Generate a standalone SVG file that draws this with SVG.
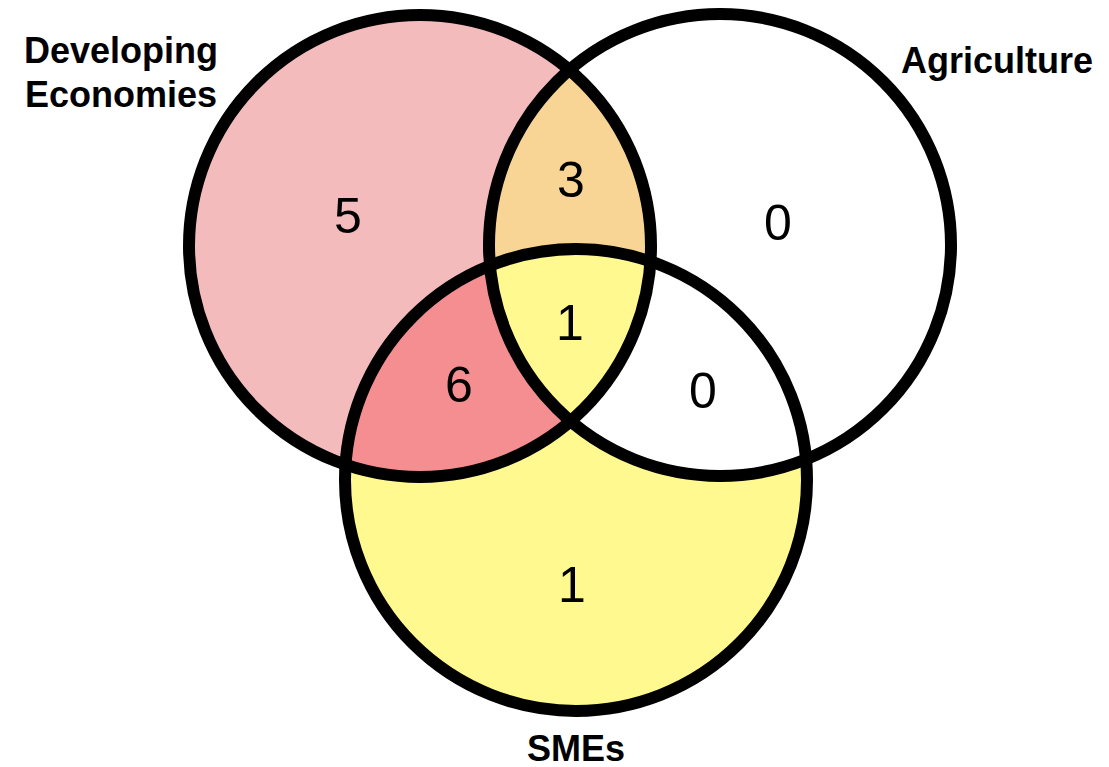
<svg xmlns="http://www.w3.org/2000/svg" width="1109" height="767" viewBox="0 0 1109 767">
  <style>
    .ring { fill: none; stroke: #000; stroke-width: 12; }
    .num { font-family: "Liberation Sans", Arial, sans-serif; font-size: 50px; fill: #000; text-anchor: middle; }
    .lab { font-family: "Liberation Sans", Arial, sans-serif; font-size: 36px; font-weight: bold; fill: #000; text-anchor: middle; }
  </style>
  <defs>
    <clipPath id="clipA"><circle cx="420" cy="246" r="231"/></clipPath>
    <clipPath id="clipB"><circle cx="720" cy="245" r="231"/></clipPath>
    <clipPath id="clipC"><circle cx="576" cy="480" r="231"/></clipPath>
  </defs>
  <rect width="1109" height="767" fill="#fff"/>
  <g id="fills">
    <circle cx="420" cy="246" r="231" fill="#F4BBBD"/>
    <circle cx="720" cy="245" r="231" fill="#fff"/>
    <circle cx="576" cy="480" r="231" fill="#FFF98F"/>
    <g clip-path="url(#clipB)"><circle cx="420" cy="246" r="231" fill="#F9D595"/></g>
    <g clip-path="url(#clipC)"><circle cx="720" cy="245" r="231" fill="#fff"/></g>
    <g clip-path="url(#clipC)"><circle cx="420" cy="246" r="231" fill="#F48E91"/></g>
    <g clip-path="url(#clipC)"><g clip-path="url(#clipB)"><circle cx="420" cy="246" r="231" fill="#FFF98F"/></g></g>
  </g>
  <g id="developing-economies">
    <circle class="ring" cx="420" cy="246" r="231"/>
    <text class="lab" x="121" y="63">Developing</text>
    <text class="lab" x="121" y="107">Economies</text>
  </g>
  <g id="agriculture">
    <circle class="ring" cx="720" cy="245" r="231"/>
    <text class="lab" x="997" y="73">Agriculture</text>
  </g>
  <g id="smes">
    <circle class="ring" cx="576" cy="480" r="231"/>
    <text class="lab" x="576" y="761">SMEs</text>
  </g>
  <g id="counts">
    <text class="num" x="348" y="233">5</text>
    <text class="num" x="571" y="197">3</text>
    <text class="num" x="778" y="240">0</text>
    <text class="num" x="570" y="340">1</text>
    <text class="num" x="459" y="402">6</text>
    <text class="num" x="703" y="408">0</text>
    <text class="num" x="572" y="602">1</text>
  </g>
  <g id="connectors"/>
</svg>
